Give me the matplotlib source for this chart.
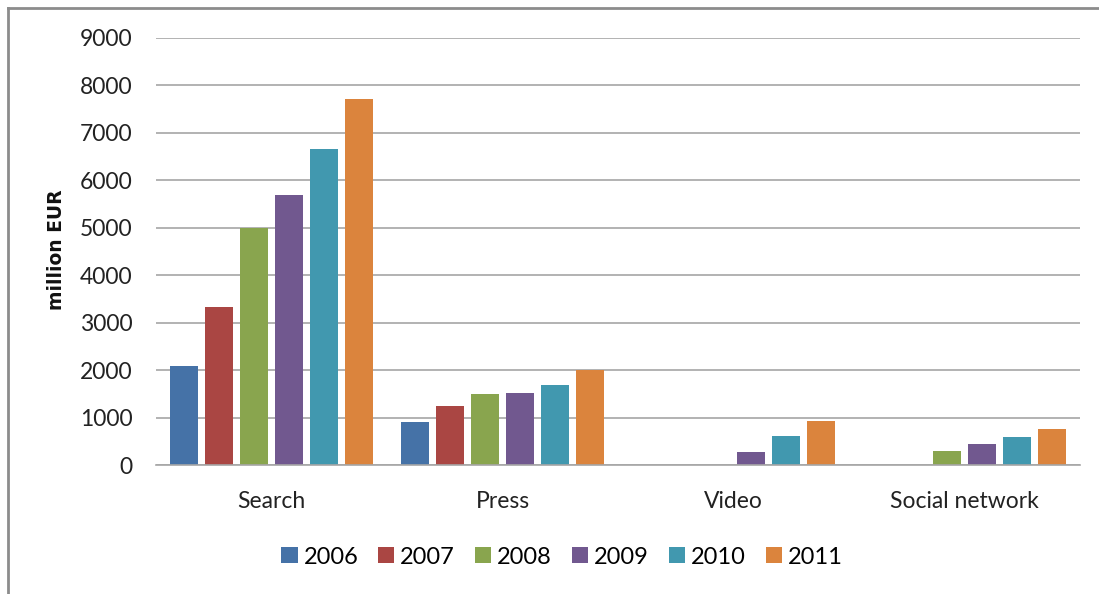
import matplotlib
matplotlib.use("Agg")
import matplotlib.pyplot as plt
import numpy as np
from matplotlib.lines import Line2D
from matplotlib.patches import Patch

categories = ["Search", "Press", "Video", "Social network"]
years = ["2006", "2007", "2008", "2009", "2010", "2011"]
v2006 = [2090, 900, 0, 0]
v2007 = [3330, 1250, 0, 0]
v2008 = [5000, 1500, 0, 300]
v2009 = [5700, 1520, 280, 440]
v2010 = [6670, 1690, 610, 580]
v2011 = [7720, 2000, 920, 760]
series = [v2006, v2007, v2008, v2009, v2010, v2011]
colors = ["#4572A7", "#AA4643", "#89A54E", "#71588F", "#4198AF", "#DB843D"]
yticks = [0, 1000, 2000, 3000, 4000, 5000, 6000, 7000, 8000, 9000]

plt.rcParams['font.family'] = ['Lato', 'DejaVu Sans']

fig = plt.figure(figsize=(10.99, 5.94), dpi=100)
ax = fig.add_axes([156/1099, 1-465/594, (1080-156)/1099, (465-38)/594])

x = np.arange(len(categories))
slot = 0.1515
bw = 0.125
for i, (vals, c) in enumerate(zip(series, colors)):
    ax.bar(x + (i - 2.5) * slot, vals, width=bw, color=c, zorder=3, label=years[i])

ax.set_xlim(-0.5, len(categories) - 0.5)
ax.set_ylim(0, 9000)
ax.set_yticks(yticks)
ax.set_yticklabels([str(t) for t in yticks], fontsize=16.5, color="#222222")
ax.set_xticks(x)
ax.set_xticklabels(categories, fontsize=16.5, color="#222222")
ax.tick_params(axis='both', length=0)
ax.tick_params(axis='y', pad=17)
ax.tick_params(axis='x', pad=19)
ax.yaxis.grid(True, color="#a6a6a6", linewidth=1.2, zorder=0)
for s in ["top", "right", "left"]:
    ax.spines[s].set_visible(False)
ax.spines["bottom"].set_color("#a6a6a6")
ax.spines["bottom"].set_linewidth(1.2)
ax.spines["bottom"].set_zorder(4)

fig.text(56/1099, 1-250/594, "million EUR", rotation=90, fontsize=13.5, fontweight='bold',
         family='DejaVu Sans', ha='center', va='center', color="#111111")

handles = [Patch(facecolor=c, edgecolor='none') for c in colors]
fig.legend(handles, years, loc='center', bbox_to_anchor=(562/1099, 1-557/594), ncol=6,
           frameon=False, fontsize=17, handlelength=0.68, handleheight=0.68,
           handletextpad=0.25, columnspacing=0.85)

# outer frame (left and top)
fig.add_artist(Line2D([7.5/1099, 7.5/1099], [0, 1-7.5/594], transform=fig.transFigure,
                      color="#8c8c8c", linewidth=2))
fig.add_artist(Line2D([7.5/1099, 1], [1-7.5/594, 1-7.5/594], transform=fig.transFigure,
                      color="#8c8c8c", linewidth=2))

fig.savefig("out.png", dpi=100)
